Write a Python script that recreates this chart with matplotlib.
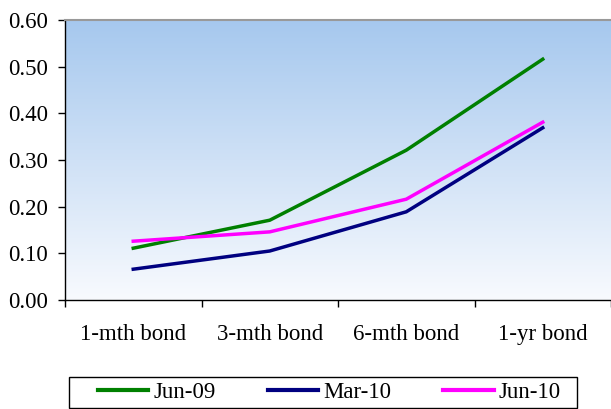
import numpy as np
import matplotlib.pyplot as plt
from matplotlib.colors import LinearSegmentedColormap
from matplotlib.patches import Rectangle

plt.rcParams['font.family'] = ['Liberation Serif', 'DejaVu Serif']

categories = ['1-mth bond', '3-mth bond', '6-mth bond', '1-yr bond']
jun_09 = [0.111, 0.171, 0.321, 0.516]
mar_10 = [0.066, 0.105, 0.189, 0.369]
jun_10 = [0.126, 0.146, 0.216, 0.381]
y_ticks = [0.0, 0.1, 0.2, 0.3, 0.4, 0.5, 0.6]

W, H = 611, 409
fig = plt.figure(figsize=(W / 100, H / 100), dpi=100)
ax = fig.add_axes([65 / W, 109 / H, 546 / W, 280 / H])

# blue-to-white gradient behind the lines
grad = np.linspace(0, 1, 256).reshape(-1, 1)
cmap = LinearSegmentedColormap.from_list('bg', ['#A6C8EE', '#F8FAFE'])
ax.imshow(grad, cmap=cmap, aspect='auto', extent=[0, 1, 0, 1],
          transform=ax.transAxes, zorder=0)

x = np.arange(len(categories))
ax.plot(x, jun_09, color='#008000', lw=2.5, label='Jun-09', zorder=3)
ax.plot(x, mar_10, color='#000080', lw=2.5, label='Mar-10', zorder=3)
ax.plot(x, jun_10, color='#FF00FF', lw=2.5, label='Jun-10', zorder=3)

ax.set_xlim(-0.5, 3.5)
ax.set_ylim(0, 0.6)
ax.set_yticks(y_ticks)
ax.set_yticklabels([f'{v:.2f}' for v in y_ticks], fontsize=16.5)
ax.set_xticks(x)
ax.set_xticklabels(categories, fontsize=16.5)
ax.set_xticks(np.arange(-0.5, 4.0, 1.0), minor=True)
ax.tick_params(axis='x', which='major', length=0, pad=17)
ax.tick_params(axis='x', which='minor', length=5, width=1, direction='out')
ax.tick_params(axis='y', length=5, width=1, direction='out', pad=7)

for side in ['left', 'bottom']:
    ax.spines[side].set_color('black')
    ax.spines[side].set_linewidth(1)
ax.spines['top'].set_color('#999999')
ax.spines['top'].set_linewidth(1.5)
ax.spines['right'].set_visible(False)

# legend entries without frame, box drawn separately
leg = fig.legend(loc='center left', bbox_to_anchor=(82 / W, 1 - 392 / H),
                 ncol=3, fontsize=16.5, frameon=False,
                 handlelength=2.2, columnspacing=2.27,
                 handletextpad=0.22, borderpad=0.2)
for line in leg.get_lines():
    line.set_linewidth(3)
fig.patches.append(Rectangle((69 / W, 1 / H), 508 / W, 31 / H,
                             transform=fig.transFigure, fill=False,
                             edgecolor='black', linewidth=1))

fig.savefig('out.png', dpi=100)
